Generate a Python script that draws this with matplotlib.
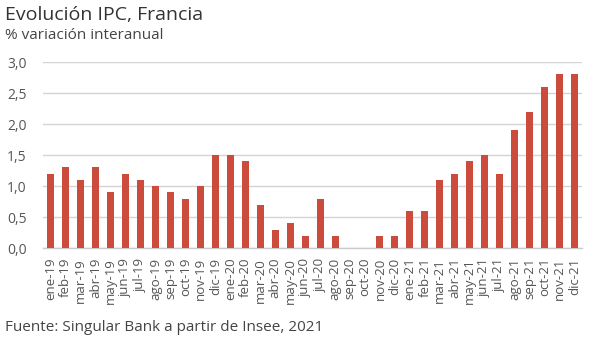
import matplotlib.pyplot as plt
import numpy as np

plt.rcParams['font.family'] = ['Open Sans', 'DejaVu Sans']

# datos IPC Francia, % variacion interanual
meses = ['ene', 'feb', 'mar', 'abr', 'may', 'jun', 'jul', 'ago', 'sep', 'oct', 'nov', 'dic']
etiquetas = [m + '-' + a for a in ['19', '20', '21'] for m in meses]
ipc_2019 = [1.2, 1.3, 1.1, 1.3, 0.9, 1.2, 1.1, 1.0, 0.9, 0.8, 1.0, 1.5]
ipc_2020 = [1.5, 1.4, 0.7, 0.3, 0.4, 0.2, 0.8, 0.2, 0.0, 0.0, 0.2, 0.2]
ipc_2021 = [0.6, 0.6, 1.1, 1.2, 1.4, 1.5, 1.2, 1.9, 2.2, 2.6, 2.8, 2.8]
valores = ipc_2019 + ipc_2020 + ipc_2021
yticks = [0.0, 0.5, 1.0, 1.5, 2.0, 2.5, 3.0]

gris = '#555555'
fig = plt.figure(figsize=(6, 3.39), dpi=100)
ax = fig.add_axes([0.072, 0.268, 0.898, 0.549])

x = np.arange(len(valores))
ax.bar(x, valores, width=0.47, color='#CB4B3D', zorder=3)

ax.set_xlim(-0.5, len(valores) - 0.5)
ax.set_ylim(0, 3.0)
ax.set_yticks(yticks)
ax.set_yticklabels([('%.1f' % v).replace('.', ',') for v in yticks], fontsize=10, color=gris)
ax.set_xticks(x)
ax.set_xticklabels(etiquetas, rotation=90, fontsize=9.5, color=gris)
ax.tick_params(axis='x', length=0, pad=7)
ax.tick_params(axis='y', length=0, pad=12)

ax.grid(axis='y', color='#d4d4d4', linewidth=1, zorder=0)
for s in ['top', 'right', 'left']:
    ax.spines[s].set_visible(False)
ax.spines['bottom'].set_color('#cccccc')
ax.spines['bottom'].set_linewidth(1)
ax.set_axisbelow(True)

fig.text(0.008, 0.955, 'Evolución IPC, Francia', fontsize=14, color='#333333', va='center')
fig.text(0.008, 0.895, '% variación interanual', fontsize=11, color='#444444', va='center')
fig.text(0.008, 0.035, 'Fuente: Singular Bank a partir de Insee, 2021', fontsize=11, color='#444444', va='center')

fig.savefig('out.png', dpi=100)
